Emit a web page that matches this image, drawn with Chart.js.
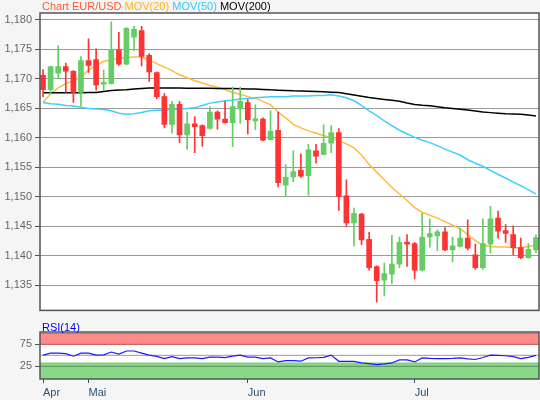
<!DOCTYPE html>
<html>
<head>
<meta charset="utf-8">
<script src="https://cdn.jsdelivr.net/npm/chart.js@4.4.1/dist/chart.umd.min.js"></script>
<style>
  html, body { margin: 0; padding: 0; background: #f5f5f5; }
  #wrap { position: relative; width: 540px; height: 400px; overflow: hidden; font-family: 'Liberation Sans', Arial, sans-serif; font-size: 11px; }
  #main { position: absolute; left: 0; top: 0; }
  #rsi { position: absolute; left: 0; top: 320px; }
  .caption { position: absolute; left: 42px; line-height: 13px; white-space: nowrap; }
</style>
</head>
<body>
<div id="wrap">
  <canvas id="main" width="540" height="320"></canvas>
  <canvas id="rsi" width="540" height="80"></canvas>
  <div class="caption" style="top:0">
    <span style="color:#ff5a33">Chart EUR/USD</span> <span style="color:#ffb31a">MOV(20)</span> <span style="color:#33c8f0">MOV(50)</span> <span style="color:#000">MOV(200)</span>
  </div>
  <div class="caption" style="top:321px;color:#0000ff">RSI(14)</div>
</div>
<script>
// x axis: trading day index, month labels at the first day of each month
const monthLabels = ['Apr', 'Mai', 'Jun', 'Jul'];
const monthStarts = [0, 6, 27, 49];
const priceTicks = [1.135, 1.140, 1.145, 1.150, 1.155, 1.160, 1.165, 1.170, 1.175, 1.180];
const rsiTicks = [25, 75];

const opens = [
  1.1706, 1.1682, 1.1710, 1.1721, 1.1713, 1.1677, 1.1731, 1.1733, 1.1691, 1.1692,
  1.1749, 1.1725, 1.1771, 1.1782, 1.1740, 1.1711, 1.1670, 1.1623, 1.1657, 1.1605,
  1.1624, 1.1621, 1.1616, 1.1644, 1.1632, 1.1626, 1.1649, 1.1660, 1.1629, 1.1632,
  1.1597, 1.1613, 1.1520, 1.1534, 1.1545, 1.1536, 1.1578, 1.1572, 1.1591, 1.1609,
  1.1502, 1.1456, 1.1471, 1.1428, 1.1382, 1.1359, 1.1369, 1.1386, 1.1423, 1.1421,
  1.1376, 1.1432, 1.1434, 1.1441, 1.1410, 1.1416, 1.1430, 1.1402, 1.1380, 1.1420,
  1.1464, 1.1443, 1.1436, 1.1414, 1.1397, 1.1410
];
const highs = [
  1.1716, 1.1722, 1.1756, 1.1727, 1.1714, 1.1738, 1.1768, 1.1751, 1.1715, 1.1797,
  1.1779, 1.1787, 1.1789, 1.1789, 1.1743, 1.1712, 1.1675, 1.1662, 1.1662, 1.1644,
  1.1636, 1.1622, 1.1653, 1.1646, 1.1662, 1.1686, 1.1686, 1.1665, 1.1656, 1.1634,
  1.1646, 1.1644, 1.1555, 1.1578, 1.1573, 1.1589, 1.1589, 1.1622, 1.1621, 1.1616,
  1.1529, 1.1481, 1.1472, 1.1440, 1.1383, 1.1388, 1.1435, 1.1432, 1.1436, 1.1423,
  1.1472, 1.1463, 1.1444, 1.1448, 1.1432, 1.1447, 1.1461, 1.1420, 1.1463, 1.1484,
  1.1476, 1.1453, 1.1451, 1.1430, 1.1421, 1.1436
];
const lows = [
  1.1670, 1.1674, 1.1701, 1.1677, 1.1660, 1.1654, 1.1711, 1.1681, 1.1680, 1.1691,
  1.1723, 1.1724, 1.1748, 1.1722, 1.1696, 1.1666, 1.1617, 1.1608, 1.1592, 1.1581,
  1.1575, 1.1586, 1.1615, 1.1615, 1.1625, 1.1585, 1.1625, 1.1607, 1.1614, 1.1595,
  1.1596, 1.1517, 1.1501, 1.1526, 1.1533, 1.1503, 1.1557, 1.1571, 1.1575, 1.1477,
  1.1450, 1.1417, 1.1419, 1.1376, 1.1322, 1.1332, 1.1353, 1.1380, 1.1382, 1.1361,
  1.1374, 1.1415, 1.1409, 1.1409, 1.1390, 1.1415, 1.1410, 1.1377, 1.1377, 1.1405,
  1.1430, 1.1423, 1.1402, 1.1395, 1.1396, 1.1405
];
const closes = [
  1.1682, 1.1721, 1.1721, 1.1713, 1.1677, 1.1731, 1.1723, 1.1690, 1.1693, 1.1750,
  1.1725, 1.1786, 1.1784, 1.1738, 1.1712, 1.1670, 1.1623, 1.1657, 1.1605, 1.1624,
  1.1619, 1.1604, 1.1644, 1.1632, 1.1626, 1.1653, 1.1662, 1.1631, 1.1632, 1.1596,
  1.1611, 1.1524, 1.1533, 1.1543, 1.1535, 1.1580, 1.1569, 1.1591, 1.1609, 1.1501,
  1.1456, 1.1472, 1.1427, 1.1380, 1.1358, 1.1370, 1.1386, 1.1423, 1.1420, 1.1376,
  1.1432, 1.1438, 1.1441, 1.1410, 1.1417, 1.1430, 1.1413, 1.1380, 1.1421, 1.1463,
  1.1442, 1.1438, 1.1414, 1.1397, 1.1411, 1.1431
];

const mov20 = [
  1.1660, 1.1675, 1.1685, 1.1692, 1.1697, 1.1703, 1.1715, 1.1723, 1.1730, 1.1732,
  1.1735, 1.1736, 1.1737, 1.1737, 1.1732, 1.1726, 1.1720, 1.1714, 1.1707, 1.1702,
  1.1697, 1.1693, 1.1689, 1.1686, 1.1682, 1.1677, 1.1674, 1.1670, 1.1667, 1.1662,
  1.1656, 1.1644, 1.1634, 1.1623, 1.1617, 1.1612, 1.1608, 1.1604, 1.1600, 1.1595,
  1.1590, 1.1583, 1.1571, 1.1555, 1.1542, 1.1529, 1.1516, 1.1505, 1.1494, 1.1482,
  1.1474, 1.1469, 1.1464, 1.1458, 1.1452, 1.1446, 1.1436, 1.1426, 1.1418, 1.1416,
  1.1415, 1.1415, 1.1414, 1.1414, 1.1416, 1.1418
];
const mov50 = [
  1.1660, 1.1658, 1.1657, 1.1655, 1.1654, 1.1652, 1.1650, 1.1649, 1.1648, 1.1646,
  1.1642, 1.1640, 1.1641, 1.1643, 1.1646, 1.1647, 1.1647, 1.1648, 1.1649, 1.1650,
  1.1651, 1.1655, 1.1659, 1.1661, 1.1663, 1.1664, 1.1666, 1.1667, 1.1668, 1.1669,
  1.1670, 1.1670, 1.1670, 1.1671, 1.1671, 1.1671, 1.1672, 1.1672, 1.1673, 1.1671,
  1.1668, 1.1663, 1.1655, 1.1646, 1.1638, 1.1629, 1.1621, 1.1613, 1.1607, 1.1601,
  1.1596, 1.1592, 1.1587, 1.1581, 1.1576, 1.1571, 1.1563, 1.1557, 1.1552, 1.1545,
  1.1538, 1.1532, 1.1525, 1.1519, 1.1512, 1.1505
];
const mov200 = [
  1.16764, 1.16764, 1.16764, 1.16764, 1.16764, 1.16765, 1.16769, 1.16772, 1.16788, 1.16805,
  1.16813, 1.16818, 1.16830, 1.16839, 1.16846, 1.16848, 1.16848, 1.16846, 1.16846, 1.16844,
  1.16844, 1.16843, 1.16841, 1.16839, 1.16838, 1.16836, 1.16835, 1.16831, 1.16828, 1.16823,
  1.16815, 1.16810, 1.16805, 1.16798, 1.16797, 1.16793, 1.16788, 1.16782, 1.16775, 1.16769,
  1.16749, 1.16727, 1.16706, 1.16686, 1.16670, 1.16653, 1.16637, 1.16620, 1.16591, 1.16566,
  1.16554, 1.16546, 1.16530, 1.16513, 1.16500, 1.16488, 1.16472, 1.16455, 1.16439, 1.16429,
  1.16419, 1.16411, 1.16406, 1.16401, 1.16389, 1.16373
];

const rsi14 = [
  50.6, 55, 55, 54, 48, 55, 55, 50.6, 51, 57.5,
  53, 59.8, 59.8, 55, 50.6, 47.7, 42.4, 47, 42.4, 44,
  44, 42.4, 46, 46, 45, 48, 50.6, 46, 46, 42.4,
  44, 35, 38, 38, 36.6, 44, 44.5, 45.5, 50.6, 36.4,
  36.4, 36.4, 32.7, 31, 29, 30.5, 32.7, 39.5, 39.5, 35,
  44, 43, 42.4, 42.4, 43, 44, 42, 40.5, 45, 50.6,
  50, 49, 47, 42.4, 45.5, 50
];
const rsiHighZone = [75, 100];
const rsiLowZone = [-3.8, 32.5];
const rsiLowLine = 25;
const rsiMidLine = 50;

Chart.defaults.font.family = "'Liberation Sans', Arial, sans-serif";
Chart.defaults.font.size = 11;

const UP = '#66cc66';
const DOWN = '#ff3333';
const xMin = -0.4;
const xMax = opens.length - 0.6;
const idx = opens.map((_, i) => i);
const candleColors = idx.map(i => closes[i] >= opens[i] ? UP : DOWN);
const pts = arr => arr.map((v, i) => ({ x: i, y: v }));
const flat = v => [{ x: xMin, y: v }, { x: xMax, y: v }];

// white plot area + dark frame around it
const framePlugin = {
  id: 'frame',
  beforeDraw(chart) {
    const { ctx, chartArea: a } = chart;
    ctx.save();
    ctx.fillStyle = '#ffffff';
    ctx.fillRect(a.left, a.top, a.width, a.height);
    ctx.restore();
  },
  afterDraw(chart) {
    const { ctx, chartArea: a } = chart;
    ctx.save();
    ctx.strokeStyle = '#555555';
    ctx.lineWidth = 1.5;
    ctx.strokeRect(a.left, a.top, a.width, a.height);
    ctx.restore();
  }
};

new Chart(document.getElementById('main'), {
  type: 'bar',
  data: {
    datasets: [
      {
        type: 'bar',
        label: 'wick',
        data: idx.map(i => ({ x: i, y: [lows[i], highs[i]] })),
        backgroundColor: candleColors,
        barThickness: 1,
        grouped: false,
        order: 2
      },
      {
        type: 'bar',
        label: 'body',
        data: idx.map(i => ({ x: i, y: [opens[i], closes[i]] })),
        backgroundColor: candleColors,
        barThickness: 5,
        minBarLength: 2,
        grouped: false,
        order: 1
      },
      { type: 'line', label: 'MOV(200)', data: pts(mov200), borderColor: '#000000', borderWidth: 1.5, pointRadius: 0, order: 3 },
      { type: 'line', label: 'MOV(50)', data: pts(mov50), borderColor: '#3fd0ff', borderWidth: 1.5, pointRadius: 0, order: 3 },
      { type: 'line', label: 'MOV(20)', data: pts(mov20), borderColor: '#ffbb3c', borderWidth: 1.5, pointRadius: 0, order: 3 }
    ]
  },
  options: {
    responsive: false,
    animation: false,
    layout: { padding: { top: 13, right: 1, bottom: 1, left: 0 } },
    plugins: { legend: { display: false }, tooltip: { enabled: false } },
    scales: {
      x: { type: 'linear', min: xMin, max: xMax, offset: false, display: false },
      y: {
        min: 1.13076,
        max: 1.18118,
        afterFit: s => { s.width = 40; },
        afterBuildTicks: s => { s.ticks = priceTicks.map(v => ({ value: v })); },
        border: { display: false },
        grid: { color: '#999999', lineWidth: 1, tickLength: 5, tickColor: '#555555' },
        ticks: { color: '#666666', padding: 3, callback: v => v.toFixed(3).replace('.', ',') }
      }
    }
  },
  plugins: [framePlugin]
});

new Chart(document.getElementById('rsi'), {
  type: 'line',
  data: {
    datasets: [
      { data: pts(rsi14), borderColor: '#1a1aff', borderWidth: 1.2, pointRadius: 0, order: 1 },
      { data: flat(rsiMidLine), borderColor: '#9a9a9a', borderWidth: 1, pointRadius: 0, order: 2 },
      { data: flat(rsiHighZone[0]), borderColor: '#cc6262', borderWidth: 1.2, pointRadius: 0, order: 2 },
      { data: flat(rsiLowLine), borderColor: '#5e9e5e', borderWidth: 1.2, pointRadius: 0, order: 2 },
      { data: flat(rsiHighZone[1]), borderColor: '#cc6262', borderWidth: 1, pointRadius: 0,
        fill: { value: rsiHighZone[0] }, backgroundColor: '#ff8a8a', order: 3 },
      { data: flat(rsiLowZone[1]), borderColor: '#7ccc7c', borderWidth: 1, pointRadius: 0,
        fill: { value: rsiLowZone[0] }, backgroundColor: '#88d888', order: 3 }
    ]
  },
  options: {
    responsive: false,
    animation: false,
    layout: { padding: { top: 12, right: 1, bottom: 0, left: 0 } },
    plugins: { legend: { display: false }, tooltip: { enabled: false } },
    scales: {
      x: {
        type: 'linear',
        min: xMin,
        max: xMax,
        offset: false,
        afterFit: s => { s.height = 21; },
        afterBuildTicks: s => { s.ticks = monthStarts.map(v => ({ value: v })); },
        border: { display: false },
        grid: { drawOnChartArea: false, tickLength: 4, tickColor: '#2f4f6f' },
        ticks: {
          color: '#2f4f6f',
          padding: 3,
          align: 'start',
          maxRotation: 0,
          autoSkip: false,
          callback: v => monthLabels[monthStarts.indexOf(v)]
        }
      },
      y: {
        min: rsiLowZone[0],
        max: 103,
        afterFit: s => { s.width = 40; },
        afterBuildTicks: s => { s.ticks = rsiTicks.map(v => ({ value: v })); },
        border: { display: false },
        grid: { drawOnChartArea: false, tickLength: 5, tickColor: '#555555' },
        ticks: { color: '#666666', padding: 3 }
      }
    }
  },
  plugins: [framePlugin]
});
</script>
</body>
</html>
